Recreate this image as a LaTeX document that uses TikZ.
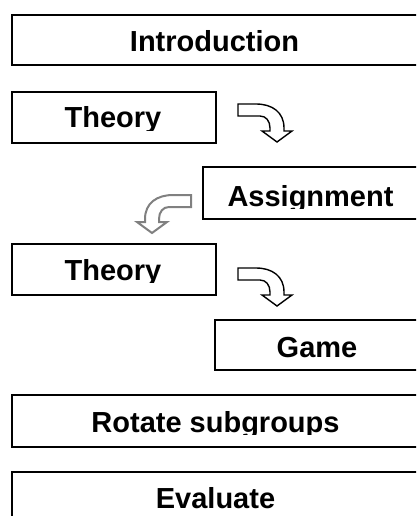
\documentclass[tikz,border=0pt]{standalone}
\usepackage{fontspec}
\setmainfont{Liberation Sans}
\begin{document}
\begin{tikzpicture}[x=1pt,y=-1pt,
  box/.style={draw=black, line width=1.8pt, fill=white, anchor=north west, inner sep=0pt},
  txt/.style={anchor=base, inner sep=0pt, font=\bfseries\fontsize{29}{31}\selectfont},
  bendarrow/.pic={
    \path[pic actions] (0,0) -- (18,0) .. controls (34,0) and (46,8) .. (46,24)
      -- (46,27) -- (54,27) -- (39,38) -- (24,27) -- (32,27) -- (32,24)
      .. controls (32,17) and (28,12) .. (22,12) -- (0,12) -- cycle;
  },
  darkarrow/.style={draw=black, line width=1.4pt, fill=white, line join=miter},
  greyarrow/.style={draw=black!50, line width=2pt, fill=white, line join=miter}
]
\useasboundingbox (0,0) rectangle (416,516);
\clip (0,0) rectangle (416,516);
% boxes
\node[box, minimum width=408pt, minimum height=50pt] (intro) at (11,14) {};
\node[box, minimum width=204pt, minimum height=51pt] (theory1) at (11,91) {};
\node[box, minimum width=217pt, minimum height=52pt] (assign) at (202,166) {};
\node[box, minimum width=204pt, minimum height=51pt] (theory2) at (11,243) {};
\node[box, minimum width=205pt, minimum height=50pt] (game) at (214,319) {};
\node[box, minimum width=408pt, minimum height=52pt] (rotate) at (11,394) {};
\node[box, minimum width=408pt, minimum height=60pt] (evaluate) at (11,471) {};
% texts (clipped just below the baseline)
\begin{scope}\clip (11,14) rectangle (419,54);
  \node[txt] (introT) at (214.5,52) {Introduction};\end{scope}
\begin{scope}\clip (11,91) rectangle (215,130);
  \node[txt] (theory1T) at (113,128) {Theory};\end{scope}
\begin{scope}\clip (202,166) rectangle (419,208);
  \node[txt] (assignT) at (310.5,206) {Assignment};\end{scope}
\begin{scope}\clip (11,243) rectangle (215,282);
  \node[txt] (theory2T) at (113,280) {Theory};\end{scope}
\begin{scope}\clip (214,319) rectangle (419,359);
  \node[txt] (gameT) at (317,357) {Game};\end{scope}
\begin{scope}\clip (11,394) rectangle (419,434);
  \node[txt] (rotateT) at (215.5,432) {Rotate subgroups};\end{scope}
\begin{scope}\clip (11,471) rectangle (419,516);
  \node[txt] (evaluateT) at (215.5,508) {Evaluate};\end{scope}
% bent block arrows
\pic[darkarrow] at (238,104) {bendarrow};
\pic[darkarrow] at (238,268) {bendarrow};
\pic[greyarrow, xscale=-1] at (191,195) {bendarrow};
\end{tikzpicture}
\end{document}
